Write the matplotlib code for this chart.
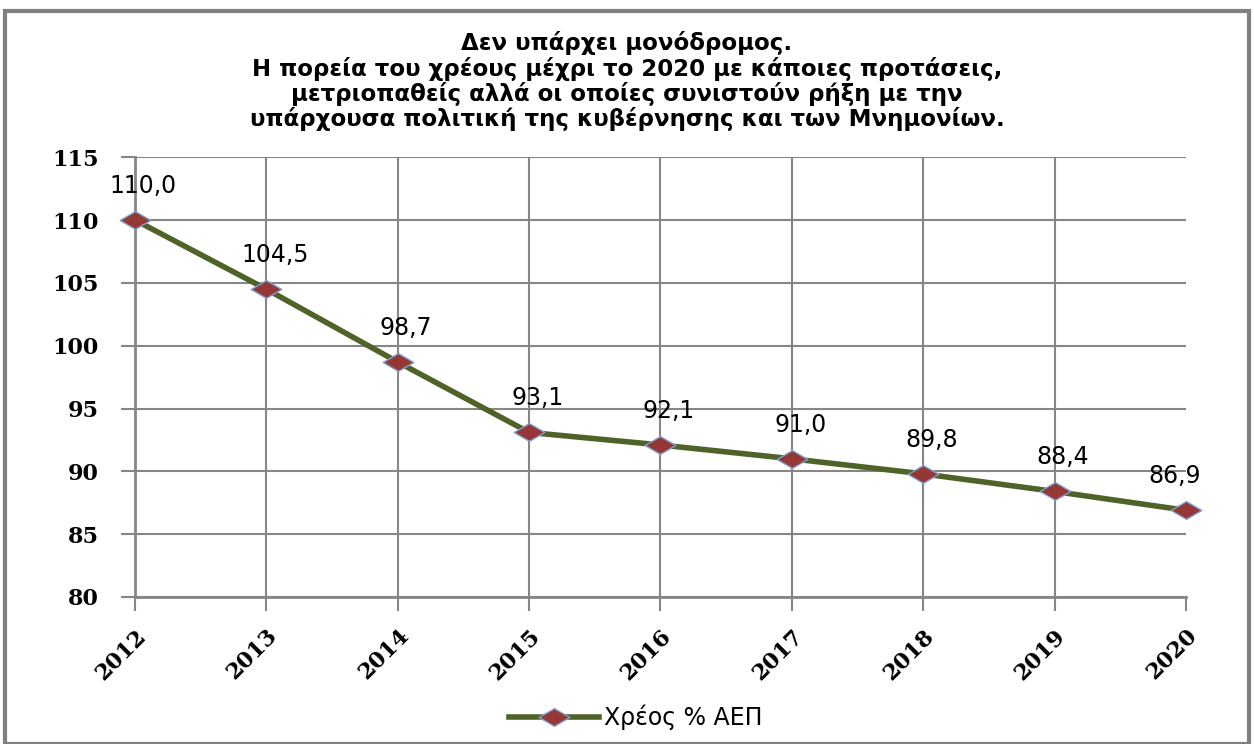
"""Greek debt path chart"""

import matplotlib.pyplot as plt
from matplotlib.patches import Rectangle
from matplotlib.path import Path

years = ["2012", "2013", "2014", "2015", "2016", "2017", "2018", "2019", "2020"]
debt = [110.0, 104.5, 98.7, 93.1, 92.1, 91.0, 89.8, 88.4, 86.9]
debt_labels = ["110,0", "104,5", "98,7", "93,1", "92,1", "91,0", "89,8", "88,4", "86,9"]
y_ticks = [80, 85, 90, 95, 100, 105, 110, 115]
title = ("Δεν υπάρχει μονόδρομος.\n"
         "Η πορεία του χρέους μέχρι το 2020 με κάποιες προτάσεις,\n"
         "μετριοπαθείς αλλά οι οποίες συνιστούν ρήξη με την\n"
         "υπάρχουσα πολιτική της κυβέρνησης και των Μνημονίων.")
series_name = "Χρέος % ΑΕΠ"

plt.rcParams["font.family"] = ["DejaVu Sans"]

# flattened diamond like the Excel marker
wide_diamond = Path([(-1, 0), (0, 0.58), (1, 0), (0, -0.58), (-1, 0)],
                    [Path.MOVETO, Path.LINETO, Path.LINETO, Path.LINETO, Path.CLOSEPOLY])

fig = plt.figure(figsize=(12.54, 7.44), dpi=100)
ax = fig.add_axes([0.1077, 0.1976, 0.838, 0.591])

x = list(range(len(years)))
ax.plot(x, debt, color="#4F6228", linewidth=4, marker=wide_diamond, markersize=22,
        markerfacecolor="#953735", markeredgecolor="#7F9FCF", markeredgewidth=1,
        label=series_name, zorder=3, clip_on=False)

for i, (v, lab) in enumerate(zip(debt, debt_labels)):
    dx = -8 if i == len(x) - 1 else 6
    ax.annotate(lab, (i, v), xytext=(dx, 16), textcoords="offset points",
                ha="center", va="bottom", fontsize=17, color="black")

ax.set_xlim(0, len(x) - 1)
ax.set_ylim(80, 115)
ax.set_xticks(x)
ax.set_xticklabels(years, rotation=45, ha="right", rotation_mode="anchor",
                   fontsize=16, fontweight="bold", family="DejaVu Serif")
ax.set_yticks(y_ticks)
ax.set_yticklabels([str(t) for t in y_ticks], fontsize=16, fontweight="bold", family="DejaVu Serif")
ax.tick_params(axis="both", length=10, width=1.5, color="#868686")
ax.tick_params(axis="y", pad=16)
ax.tick_params(axis="x", pad=10)

ax.grid(True, color="#868686", linewidth=1.5)
ax.xaxis.get_gridlines()[-1].set_visible(False)
ax.set_axisbelow(True)
for s in ["top", "right"]:
    ax.spines[s].set_visible(False)
for s in ["left", "bottom"]:
    ax.spines[s].set_color("#868686")
    ax.spines[s].set_linewidth(2)

fig.text(0.5, 0.958, title, ha="center", va="top", fontsize=16.5, fontweight="bold",
         linespacing=1.07)

fig.legend(loc="center", bbox_to_anchor=(0.507, 0.036), frameon=False, fontsize=17,
           handlelength=3.8, handletextpad=0.2)

fig.patches.append(Rectangle((0.004, 0.0), 0.992, 0.985, transform=fig.transFigure,
                             fill=False, edgecolor="#808080", linewidth=3))

fig.savefig("out.png", dpi=100)
plt.close()
